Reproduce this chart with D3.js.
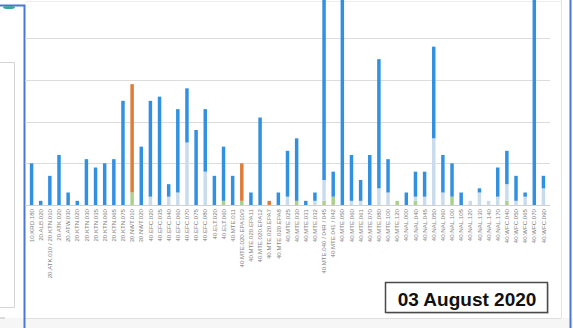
<!DOCTYPE html>
<html>
<head>
<meta charset="utf-8">
<script src="https://cdn.jsdelivr.net/npm/d3@7"></script>
<style>
  body { margin: 0; background: #fff; }
  svg { display: block; font-family: "Liberation Sans", Arial, sans-serif; }
</style>
</head>
<body>
<script>
// categories (x axis)
var categories = [
  "10.KRD.180", "20.ALB.020", "20.ATK.010 / 20.KTN.010", "20.ATK.020", "20.ATW.030",
  "20.KTN.020", "20.KTN.030", "20.KTN.035", "20.KTN.060", "20.KTN.065", "20.KTN.075",
  "30.NWT.010", "30.NWT.020", "40.EFC.020", "40.EFC.035", "40.EFC.040", "40.EFC.060",
  "40.EFC.070", "40.EFC.075", "40.EFC.080", "40.ELT.020", "40.ELT.060", "40.MTE.011",
  "40.MTE.020.EPA10/3", "40.MTE.020.EPA11", "40.MTE.020.EPA12", "40.MTE.020.EPA7",
  "40.MTE.020.EPA8", "40.MTE.025", "40.MTE.030", "40.MTE.031", "40.MTE.032",
  "40.MTE.040 / 04R / 045", "40.MTE.041 / 042", "40.MTE.050", "40.MTE.060", "40.MTE.061",
  "40.MTE.070", "40.MTE.080", "40.MTE.100", "40.MTE.120", "40.NAL.000", "40.NAL.040",
  "40.NAL.045", "40.NAL.050", "40.NAL.060", "40.NAL.100", "40.NAL.105", "40.NAL.120",
  "40.NAL.130", "40.NAL.140", "40.NAL.170", "40.WFC.040", "40.WFC.050", "40.WFC.065",
  "40.WFC.070", "40.WFC.090"
];

// series values, bottom to top of each stack
var greenVals  = [0,0,0,0,0,0,0,0,0,0,0,3,0,0,0,0,0,0,0,0,0,1,0,1,0,0,0,0,0,1,0,0,1,2,0,0,0,0,0,0,1,0,1,0,0,0,2,0,0,0,0,0,1,0,0,0,0];
var lightVals  = [0,0,0,0,0,0,0,0,0,0,0,0,0,2,0,2,3,15,0,8,0,0,0,0,0,0,0,0,2,0,0,1,5,0,0,1,1,0,4,3,0,0,1,2,16,3,0,0,1,3,1,2,4,1,2,0,4];
var blueVals   = [10,1,7,12,3,1,11,9,10,11,25,0,14,23,26,3,20,13,18,15,7,13,7,0,3,21,0,3,11,15,1,2,50,6,60,11,5,12,31,8,0,3,6,6,22,9,8,3,0,1,0,7,8,6,1,58,3];
var orangeVals = [0,0,0,0,0,0,0,0,0,0,0,26,0,0,0,0,0,0,0,0,0,0,0,9,0,0,1,0,0,0,0,0,0,0,0,0,0,0,0,0,0,0,0,0,0,0,0,0,0,0,0,0,0,0,0,0,0];

var gridTicks = [10, 20, 30, 40, 50];
var dateLabel = "03 August 2020";

var keys = ["green", "light", "blue", "orange"];
var colors = { green: "#a9d18e", light: "#c9dced", blue: "#3290e0", orange: "#e07c3a" };

var rows = categories.map(function(c, i) {
  return { cat: c, green: greenVals[i], light: lightVals[i], blue: blueVals[i], orange: orangeVals[i] };
});

var width = 573, height = 328;

var svg = d3.select("body").append("svg")
    .attr("width", width)
    .attr("height", height);

// page bits around the chart
svg.append("rect").attr("x", 0).attr("y", 318).attr("width", width).attr("height", 10).attr("fill", "#f6f6f6");
svg.append("line").attr("x1", 25).attr("x2", 561).attr("y1", 318.5).attr("y2", 318.5).attr("stroke", "#dedede");
svg.append("line").attr("x1", 561.5).attr("x2", 561.5).attr("y1", 0).attr("y2", 318).attr("stroke", "#e4e4e4");
svg.append("line").attr("x1", 25).attr("x2", 561).attr("y1", 1.5).attr("y2", 1.5).attr("stroke", "#eeeeee");

// grey panel on the left
svg.append("path")
    .attr("d", "M0,62.5H14.5V307.5H0")
    .attr("fill", "none").attr("stroke", "#d4d4d4");
svg.append("line").attr("x1", 0).attr("x2", 5).attr("y1", 318).attr("y2", 318).attr("stroke", "#bbb");

// blue selection borders
svg.append("path")
    .attr("d", "M0,5.5H24.5V328")
    .attr("fill", "none").attr("stroke", "#4a78d0").attr("stroke-width", 2);
svg.append("ellipse").attr("cx", 9).attr("cy", 7.5).attr("rx", 6).attr("ry", 1.6).attr("fill", "#3aa59a");
svg.append("line").attr("x1", 570.5).attr("x2", 570.5).attr("y1", 0).attr("y2", height)
    .attr("stroke", "#4a78d0").attr("stroke-width", 2);

// scales
var x = d3.scaleBand()
    .domain(categories)
    .range([27, 548])
    .paddingInner(0.62)
    .paddingOuter(0.31);

var y = d3.scaleLinear()
    .domain([0, 60])
    .range([205, -45]);

// gridlines
svg.append("g")
    .selectAll("line")
    .data(gridTicks)
    .enter()
    .append("line")
    .attr("x1", 25)
    .attr("x2", 550)
    .attr("y1", function(d) { return Math.round(y(d)) + 0.5; })
    .attr("y2", function(d) { return Math.round(y(d)) + 0.5; })
    .attr("stroke", "#dcdcdc");

svg.append("line")
    .attr("x1", 25).attr("x2", 550)
    .attr("y1", y(0) + 0.5).attr("y2", y(0) + 0.5)
    .attr("stroke", "#d0d0d0");

// stacked bars
var series = d3.stack().keys(keys)(rows);

svg.append("g")
    .selectAll("g")
    .data(series)
    .enter()
    .append("g")
    .attr("fill", function(d) { return colors[d.key]; })
    .selectAll("rect")
    .data(function(d) { return d; })
    .enter()
    .append("rect")
    .attr("x", function(d) { return x(d.data.cat); })
    .attr("width", x.bandwidth())
    .attr("y", function(d) { return y(d[1]); })
    .attr("height", function(d) { return y(d[0]) - y(d[1]); });

// category labels, rotated
svg.append("g")
    .selectAll("text")
    .data(categories)
    .enter()
    .append("text")
    .attr("transform", function(d) {
        return "translate(" + (x(d) + x.bandwidth() / 2) + ",209) rotate(-90)";
    })
    .attr("text-anchor", "end")
    .attr("dy", "0.35em")
    .attr("font-size", 6.1)
    .attr("fill", "#7f7f7f")
    .text(function(d) { return d; });

// date box
svg.append("rect")
    .attr("x", 387).attr("y", 284).attr("width", 162).attr("height", 30)
    .attr("fill", "#e2e2e2");
svg.append("rect")
    .attr("x", 385.5).attr("y", 282.5).attr("width", 162).attr("height", 30)
    .attr("fill", "#fff").attr("stroke", "#4a4a4a").attr("stroke-width", 1.5);
svg.append("text")
    .attr("x", 467).attr("y", 305.5)
    .attr("text-anchor", "middle")
    .attr("font-size", 19)
    .attr("font-weight", "bold")
    .attr("fill", "#111")
    .text(dateLabel);
</script>
</body>
</html>
